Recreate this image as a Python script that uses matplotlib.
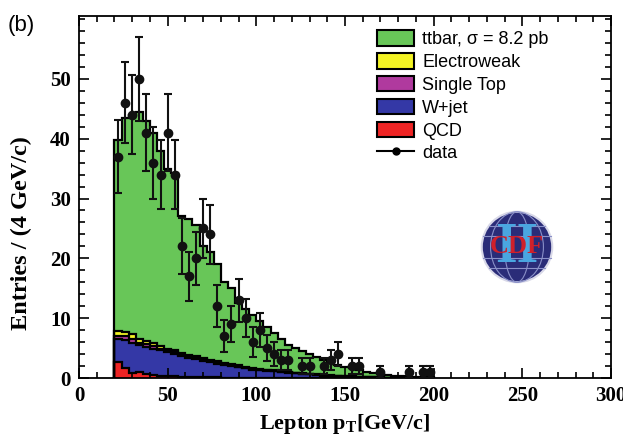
import numpy as np
import matplotlib.pyplot as plt
from matplotlib.patches import Patch, Circle, Ellipse
from matplotlib.lines import Line2D

# bins of 4 GeV/c from 20 to 200
edges = np.arange(20, 201, 4)
centers = edges[:-1] + 2

# stacked totals (cumulative, bottom to top)
qcd_top = [2.7, 1.6, 0.8, 1.0, 0.6, 0.5, 0.4, 0.3, 0.3, 0.2, 0.2, 0.15, 0.1, 0.1, 0.1, 0.05,
           0.05, 0.05, 0.0, 0.0, 0.0, 0.0, 0.0, 0.0, 0.0, 0.0, 0.0, 0.0, 0.0, 0.0,
           0.0, 0.0, 0.0, 0.0, 0.0, 0.0, 0.0, 0.0, 0.0, 0.0, 0.0, 0.0, 0.0, 0.0, 0.0]
wjet_top = [6.5, 6.3, 5.9, 5.5, 5.2, 4.9, 4.6, 4.3, 4.0, 3.7, 3.4, 3.1, 2.9, 2.6, 2.4, 2.2,
            2.0, 1.8, 1.6, 1.4, 1.3, 1.2, 1.1, 1.0, 0.9, 0.8, 0.7, 0.6, 0.5, 0.4,
            0.35, 0.3, 0.25, 0.2, 0.15, 0.1, 0.1, 0.05, 0.05, 0.0, 0.0, 0.0, 0.0, 0.0, 0.0]
stop_top = [7.1, 7.0, 6.5, 5.9, 5.6, 5.3, 4.9, 4.6, 4.3, 3.9, 3.6, 3.3, 3.1, 2.8, 2.6, 2.3,
            2.1, 1.9, 1.7, 1.5, 1.4, 1.3, 1.2, 1.05, 0.95, 0.85, 0.75, 0.65, 0.55, 0.45,
            0.4, 0.35, 0.3, 0.25, 0.2, 0.15, 0.1, 0.05, 0.05, 0.0, 0.0, 0.0, 0.0, 0.0, 0.0]
ew_top = [7.9, 7.7, 7.3, 6.6, 6.2, 5.8, 5.3, 4.9, 4.6, 4.2, 3.9, 3.6, 3.3, 3.0, 2.8, 2.5,
          2.3, 2.1, 1.9, 1.7, 1.5, 1.4, 1.3, 1.1, 1.0, 0.9, 0.8, 0.7, 0.6, 0.5,
          0.45, 0.4, 0.35, 0.3, 0.25, 0.2, 0.15, 0.1, 0.05, 0.05, 0.0, 0.0, 0.0, 0.0, 0.0]
ttbar_top = [39.8, 43.4, 44.0, 44.5, 43.0, 41.0, 38.0, 35.0, 34.3, 27.0, 26.5, 25.5, 22.0, 21.0, 19.0,
             16.0, 15.0, 12.5, 11.5, 10.5, 9.5, 8.5, 7.5, 6.5, 5.5, 5.0, 4.5, 4.0, 3.5, 3.0,
             2.6, 2.2, 1.9, 1.6, 1.3, 1.0, 0.8, 0.6, 0.5, 0.4, 0.3, 0.25, 0.2, 0.15, 0.1]

# data counts per bin (0 = no point drawn)
data = [37, 46, 44, 50, 41, 36, 34, 41, 34, 22, 17, 20, 25, 24, 12, 7,
        9, 13, 10, 6, 8, 5, 4, 3, 3, 0, 2, 2, 0, 2,
        3, 4, 0, 2, 2, 0, 0, 1, 0, 0, 0, 1, 0, 1, 1]

layers = [
    ("QCD", qcd_top, "#ee2424"),
    ("W+jet", wjet_top, "#3438a6"),
    ("Single Top", stop_top, "#b03a9e"),
    ("Electroweak", ew_top, "#f4f424"),
    ("ttbar, \u03c3 = 8.2 pb", ttbar_top, "#68c658"),
]

fig = plt.figure(figsize=(6.23, 4.40), dpi=100)
ax = fig.add_axes([0.1268, 0.1409, 0.8539, 0.8227])

# draw from the top layer down so lower layers sit in front
for name, top, col in layers[::-1]:
    ax.stairs(top, edges, baseline=0, fill=True, color=col, lw=0)
for name, top, col in layers:
    ax.stairs(top, edges, baseline=0, color="k", lw=1.6)

d = np.array(data, dtype=float)
m = d > 0
ax.errorbar(centers[m], d[m], yerr=np.sqrt(d[m]), fmt="o", color="#111111", ms=6,
            elinewidth=1.5, capsize=3, capthick=1.5, zorder=5)

ax.set_xlim(0, 300)
ax.set_ylim(0, 60.5)
ax.set_xticks(np.arange(0, 301, 50))
ax.set_xticks(np.arange(0, 301, 10), minor=True)
ax.set_yticks(np.arange(0, 51, 10))
ax.set_yticks(np.arange(0, 61, 2), minor=True)
ax.tick_params(which="both", direction="in", top=True, right=True, width=1.2)
ax.tick_params(which="major", length=7, labelsize=15, pad=6)
ax.tick_params(which="minor", length=4)
for lab in ax.get_xticklabels() + ax.get_yticklabels():
    lab.set_fontfamily("Liberation Serif")
    lab.set_fontweight("bold")
for s in ax.spines.values():
    s.set_linewidth(1.3)

ax.set_xlabel("Lepton p$_\\mathregular{T}$[GeV/c]", fontsize=16, fontweight="bold",
              fontfamily="Liberation Serif", labelpad=4)
ax.set_ylabel("Entries / (4 GeV/c)", fontsize=17.5, fontweight="bold",
              fontfamily="Liberation Serif")
ax.yaxis.set_label_coords(-0.088, 0.40)

handles = [Patch(facecolor=col, edgecolor="k", lw=1.5, label=name) for name, top, col in layers[::-1]]
handles.append(Line2D([], [], color="k", marker="o", ms=5, lw=1.5, label="data"))
ax.legend(handles=handles, loc="upper left", bbox_to_anchor=(0.53, 1.006), frameon=False,
          prop={"family": "Liberation Sans", "size": 13}, handlelength=2.05, handleheight=0.95,
          labelspacing=0.27, handletextpad=0.45)

fig.text(0.013, 0.965, "(b)", fontsize=16, fontfamily="Liberation Sans", va="top")

# CDF II logo
lax = fig.add_axes([480 / 623, 156 / 440, 74 / 623, 74 / 440])
lax.set_xlim(-1.05, 1.05)
lax.set_ylim(-1.05, 1.05)
lax.set_aspect("equal")
lax.axis("off")
lax.add_patch(Circle((0, 0), 1.0, facecolor="#2a2c78", edgecolor="#d8d8e8", lw=1.5))
for w in [0.35, 0.75]:
    lax.add_patch(Ellipse((0, 0), 2 * w, 2.0, fill=False, edgecolor="#8a90c8", lw=0.8))
for yy in [-0.6, -0.3, 0.3, 0.6]:
    hw = np.sqrt(1 - yy ** 2)
    lax.plot([-hw, hw], [yy, yy], color="#8a90c8", lw=0.8)
lax.text(0, -0.04, "II", color="#4aa6e0", fontsize=40, fontweight="bold",
         fontfamily="Liberation Serif", ha="center", va="center")
lax.text(0, 0.02, "CDF", color="#d0202a", fontsize=19, fontweight="bold",
         fontfamily="Liberation Serif", ha="center", va="center")

fig.savefig("out.png", dpi=100)
